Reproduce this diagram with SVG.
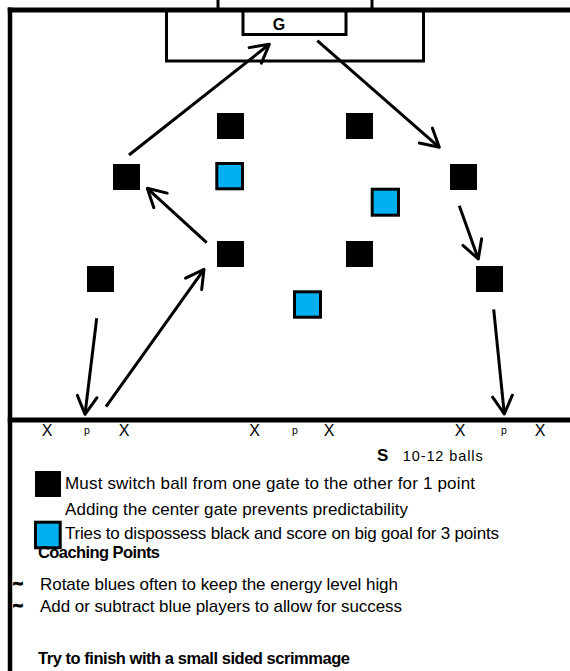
<svg xmlns="http://www.w3.org/2000/svg" width="570" height="671" viewBox="0 0 570 671">
  <style>
    .line { stroke:#000; fill:none; }
    .black { fill:#000; }
    .blue { fill:#00B0F0; stroke:#000; stroke-width:3; }
    .arrow { stroke:#000; stroke-width:3; fill:none; marker-end:url(#head); }
    .txt { font-family:"Liberation Sans", Arial, sans-serif; fill:#000; }
    .bold { font-weight:bold; }
    .tilde { font-weight:bold; stroke:#000; stroke-width:1.2; }
  </style>
  <defs>
    <marker id="head" markerUnits="userSpaceOnUse" markerWidth="40" markerHeight="40" refX="0" refY="0" orient="auto" overflow="visible" viewBox="-30 -20 40 40">
      <path d="M -17.9 -9.9 L 0 0 L -17.9 9.9" stroke="#000" stroke-width="3" fill="none" stroke-linejoin="round" stroke-linecap="round"/>
    </marker>
  </defs>
  <rect width="570" height="671" fill="#fff"/>

  <!-- field outline, goal and boxes -->
  <g id="field">
    <line class="line" x1="218" y1="0" x2="218" y2="10" stroke-width="3"/>
    <line class="line" x1="372" y1="0" x2="372" y2="10" stroke-width="3"/>
    <line class="line" x1="7.75" y1="10" x2="570" y2="10" stroke-width="5"/>
    <line class="line" x1="10" y1="7.5" x2="10" y2="671" stroke-width="4.5"/>
    <line class="line" x1="7.75" y1="420" x2="570" y2="420" stroke-width="5"/>
    <polyline class="line" points="166.5,10 166.5,61 423.5,61 423.5,10" stroke-width="3"/>
    <polyline class="line" points="243,10 243,34.5 346,34.5 346,10" stroke-width="3"/>
    <text class="txt bold" x="279" y="30" font-size="16" text-anchor="middle">G</text>
  </g>

  <!-- players -->
  <g id="black-1"><rect class="black" x="217" y="113" width="27" height="26"/></g>
  <g id="black-2"><rect class="black" x="346" y="113" width="27" height="26"/></g>
  <g id="black-3"><rect class="black" x="113" y="164" width="27" height="26"/></g>
  <g id="black-4"><rect class="black" x="450" y="164" width="27" height="26"/></g>
  <g id="black-5"><rect class="black" x="217" y="241" width="27" height="26"/></g>
  <g id="black-6"><rect class="black" x="346" y="241" width="27" height="26"/></g>
  <g id="black-7"><rect class="black" x="87" y="266" width="27" height="26"/></g>
  <g id="black-8"><rect class="black" x="476" y="266" width="27" height="26"/></g>
  <g id="blue-1"><rect class="blue" x="216.8" y="163.5" width="25.7" height="25.3"/></g>
  <g id="blue-2"><rect class="blue" x="372.2" y="189.2" width="26.3" height="26"/></g>
  <g id="blue-3"><rect class="blue" x="294.5" y="291.8" width="26" height="25.4"/></g>

  <!-- passing lanes -->
  <g id="connectors">
    <line class="arrow" x1="129" y1="155" x2="269.3" y2="44.3"/>
    <line class="arrow" x1="317.3" y1="40.7" x2="439.3" y2="147.3"/>
    <line class="arrow" x1="206.7" y1="242.7" x2="147.3" y2="188.3"/>
    <line class="arrow" x1="106" y1="406.7" x2="204" y2="269.3"/>
    <line class="arrow" x1="96.7" y1="318.3" x2="85" y2="414.3"/>
    <line class="arrow" x1="459.3" y1="205.7" x2="478.3" y2="259"/>
    <line class="arrow" x1="493.7" y1="309.3" x2="504.3" y2="414"/>
  </g>

  <!-- gate markers along the end line -->
  <g id="gates" class="txt" text-anchor="middle">
    <text x="47" y="436" font-size="16">X</text>
    <text x="87" y="434" font-size="10.5">p</text>
    <text x="124" y="436" font-size="16">X</text>
    <text x="254.5" y="436" font-size="16">X</text>
    <text x="295" y="434" font-size="10.5">p</text>
    <text x="329" y="436" font-size="16">X</text>
    <text x="460" y="436" font-size="16">X</text>
    <text x="504" y="434" font-size="10.5">p</text>
    <text x="540" y="436" font-size="16">X</text>
  </g>

  <g id="supply">
    <text class="txt bold" x="377" y="461" font-size="17">S</text>
    <text class="txt" x="402.7" y="461" font-size="14.5" textLength="80">10-12 balls</text>
  </g>

  <!-- key -->
  <g id="key-black">
    <rect class="black" x="35" y="471" width="26" height="26"/>
    <text class="txt" x="65" y="488.5" font-size="17" textLength="410">Must switch ball from one gate to the other for 1 point</text>
    <text class="txt" x="65" y="514.5" font-size="17" textLength="343">Adding the center gate prevents predictability</text>
  </g>
  <g id="key-blue">
    <rect class="blue" x="35.5" y="522.2" width="24.7" height="25.6"/>
    <text class="txt" x="65" y="538.5" font-size="17" textLength="434">Tries to dispossess black and score on big goal for 3 points</text>
  </g>

  <g id="coaching">
    <text class="txt bold" x="38" y="557.5" font-size="16.5" textLength="122">Coaching Points</text>
    <text class="txt tilde" x="13" y="589" font-size="17">~</text>
    <text class="txt" x="40" y="589.5" font-size="17" textLength="358">Rotate blues often to keep the energy level high</text>
    <text class="txt tilde" x="13" y="611" font-size="17">~</text>
    <text class="txt" x="40" y="612" font-size="17" textLength="362">Add or subtract blue players to allow for success</text>
    <text class="txt bold" x="38" y="664" font-size="16.5" textLength="312">Try to finish with a small sided scrimmage</text>
  </g>
</svg>
